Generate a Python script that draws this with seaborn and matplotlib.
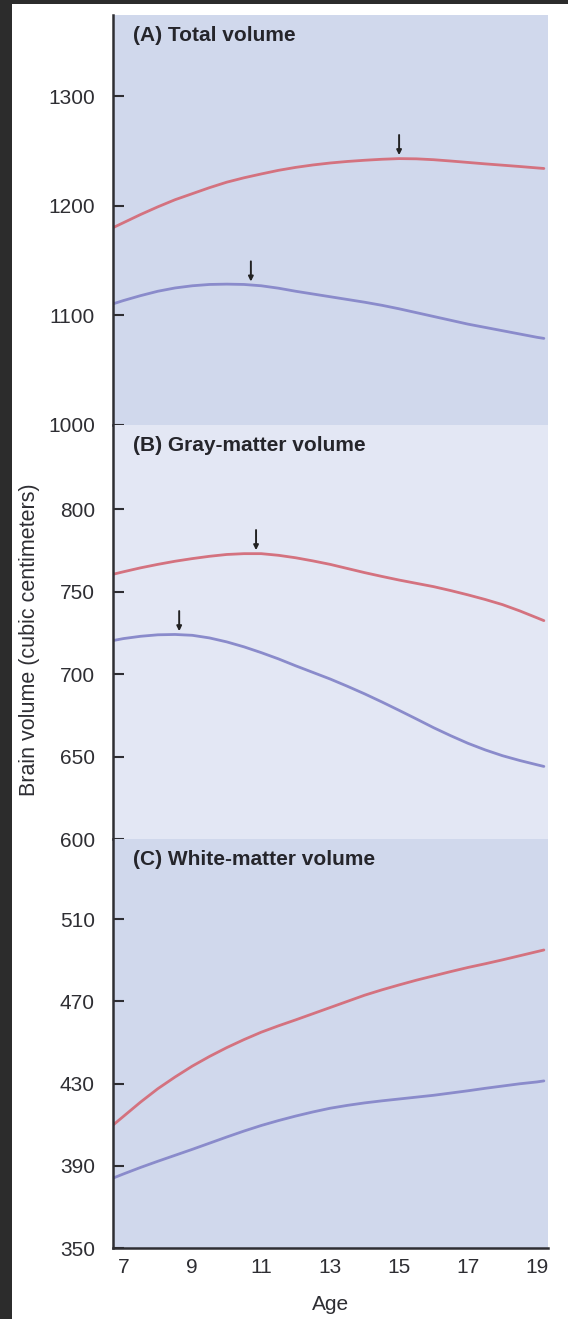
import numpy as np
import pandas as pd
import matplotlib
matplotlib.use("Agg")
import matplotlib.pyplot as plt
from matplotlib.patches import Rectangle
import seaborn as sns

# ---- data -------------------------------------------------------------
ages = [6.7, 7, 7.5, 8, 8.5, 9, 9.5, 10, 10.5, 11, 11.5, 12, 12.5, 13, 13.5,
        14, 14.5, 15, 15.5, 16, 16.5, 17, 17.5, 18, 18.5, 19, 19.2]

total_red = [1180, 1184.5, 1192, 1199, 1205.5, 1211, 1216.5, 1221.5, 1225.5,
             1229, 1232.3, 1235, 1237.2, 1239, 1240.4, 1241.5, 1242.4, 1243,
             1242.8, 1242, 1240.8, 1239.5, 1238.2, 1237, 1235.8, 1234.5, 1234]
total_blue = [1110.5, 1113.5, 1118, 1122, 1125, 1127, 1128.2, 1128.5, 1128.2,
              1127, 1124.8, 1122, 1119.5, 1117, 1114.5, 1112, 1109.2, 1106,
              1102.5, 1099, 1095.5, 1092, 1089, 1086, 1083, 1080, 1079]

gray_red = [760.5, 762, 764.4, 766.5, 768.4, 770, 771.4, 772.5, 773, 773,
            772, 770.5, 768.6, 766.5, 764, 761.5, 759.2, 757, 755, 753,
            750.6, 748, 745.2, 742.1, 738.3, 734.1, 732.4]
gray_blue = [720.3, 721.5, 722.9, 723.8, 724, 723.5, 721.9, 719.5, 716.5, 713,
             709.2, 705, 701, 697, 692.6, 688, 683.1, 678, 672.8, 667.5,
             662.6, 658, 654, 650.5, 647.6, 645, 644]

white_red = [409.8, 414, 421, 427.5, 433.2, 438.5, 443.2, 447.5, 451.4, 455,
             458.1, 461, 464, 467, 470, 473, 475.6, 478, 480.3, 482.4,
             484.5, 486.5, 488.3, 490.2, 492.2, 494.2, 495]
white_blue = [384, 386, 389.2, 392.2, 395.1, 398, 401, 404, 406.9, 409.6,
              412, 414.2, 416.2, 418, 419.4, 420.6, 421.6, 422.5, 423.4, 424.3,
              425.4, 426.5, 427.7, 428.8, 429.9, 430.8, 431.3]

panel_titles = ["(A) Total volume", "(B) Gray-matter volume", "(C) White-matter volume"]
yticks_a = [1000, 1100, 1200, 1300]
yticks_b = [600, 650, 700, 750, 800]
yticks_c = [350, 390, 430, 470, 510]
xticks = [7, 9, 11, 13, 15, 17, 19]

# ages at which each curve peaks (marked with an arrow)
peaks_a = {"red": 15.0, "blue": 10.7}
peaks_b = {"red": 10.85, "blue": 8.62}

# ---- style ------------------------------------------------------------
sns.set_theme(style="white")
plt.rcParams["font.family"] = ["Liberation Sans", "DejaVu Sans"]

RED = "#d4727f"
BLUE = "#8a8bcb"
BG_DARK = "#d0d8ec"
BG_LIGHT = "#e3e7f4"
INK = "#2e2e33"
palette = {"red": RED, "blue": BLUE}

W, H = 568, 1319
fig = plt.figure(figsize=(W / 100, H / 100), dpi=100)
fig.patch.set_facecolor("white")
# dark frame strips along the left and top edges
fig.patches.append(Rectangle((0, 0), 12 / W, 1, transform=fig.transFigure,
                             facecolor="#2c2c2c", edgecolor="none", zorder=0))
fig.patches.append(Rectangle((0, 1 - 4 / H), 1, 4 / H, transform=fig.transFigure,
                             facecolor="#2c2c2c", edgecolor="none", zorder=0))

left = 113 / W
width = (548 - 113) / W


def ax_at(top_px, bottom_px):
    return fig.add_axes([left, 1 - bottom_px / H, width, (bottom_px - top_px) / H])


axA = ax_at(15, 425)
axB = ax_at(425, 839)
axC = ax_at(839, 1248)

panels = [
    (axA, total_red, total_blue, (1000, 1374), yticks_a, BG_DARK, peaks_a),
    (axB, gray_red, gray_blue, (600, 851), yticks_b, BG_LIGHT, peaks_b),
    (axC, white_red, white_blue, (350, 549), yticks_c, BG_DARK, None),
]

for i, (ax, red, blue, ylim, yt, bg, peaks) in enumerate(panels):
    df = pd.DataFrame({
        "age": ages * 2,
        "volume": red + blue,
        "group": ["red"] * len(ages) + ["blue"] * len(ages),
    })
    sns.lineplot(data=df, x="age", y="volume", hue="group", palette=palette,
                 linewidth=2.0, legend=False, ax=ax, sort=True)
    ax.set_facecolor(bg)
    ax.set_xlim(6.7, 19.32)
    ax.set_ylim(*ylim)
    ax.set_yticks(yt)
    ax.set_yticklabels([str(v) for v in yt], fontsize=15, color=INK)
    ax.tick_params(axis="y", direction="in", length=8, width=1.5, color=INK, pad=13, left=True)
    ax.set_xlabel("")
    ax.set_ylabel("")
    for side in ["top", "right", "bottom"]:
        ax.spines[side].set_visible(False)
    ax.spines["left"].set_color(INK)
    ax.spines["left"].set_linewidth(1.8)
    ax.text(0.046, 0.95, panel_titles[i], transform=ax.transAxes, fontsize=15,
            fontweight="bold", color="#25252b", ha="left", va="center")

    if peaks is not None:
        for key, series in (("red", red), ("blue", blue)):
            a = peaks[key]
            v = float(np.interp(a, ages, series))
            ax.annotate("", xy=(a, v), xytext=(0, 17), textcoords="offset points",
                        arrowprops=dict(arrowstyle="-|>", color="#222222", lw=1.4,
                                        mutation_scale=7, shrinkA=0, shrinkB=2.5))

    if ax is axC:
        ax.spines["bottom"].set_visible(True)
        ax.spines["bottom"].set_color(INK)
        ax.spines["bottom"].set_linewidth(1.8)
        ax.set_xticks(xticks)
        ax.set_xticklabels([str(v) for v in xticks], fontsize=15, color=INK)
        ax.tick_params(axis="x", length=0, pad=7, bottom=True)
    else:
        ax.set_xticks([])

fig.text((113 + 548) / 2 / W, 1 - 1305 / H, "Age", ha="center", va="center",
         fontsize=15, color=INK)
fig.text(30 / W, 1 - 640 / H, "Brain volume (cubic centimeters)", rotation=90,
         ha="center", va="center", fontsize=15.5, color=INK)

fig.savefig("out.png", dpi=100, facecolor=fig.get_facecolor())
